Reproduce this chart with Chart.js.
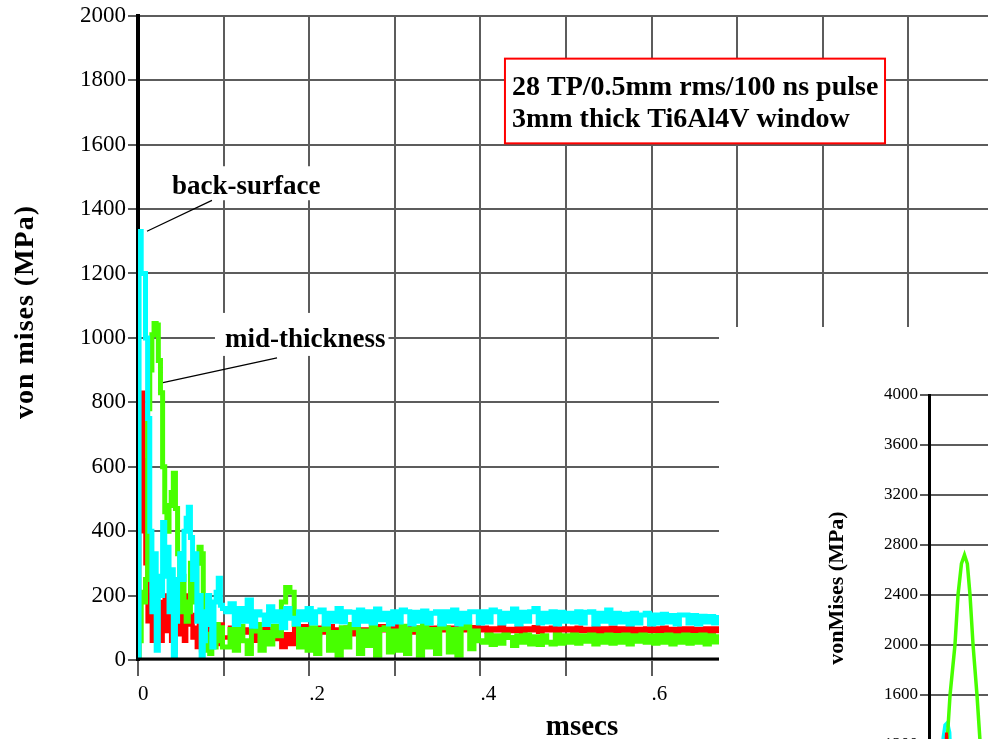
<!DOCTYPE html>
<html>
<head>
<meta charset="utf-8">
<script src="https://cdn.jsdelivr.net/npm/chart.js@4.4.1/dist/chart.umd.min.js"></script>
<style>
    html, body { margin: 0; padding: 0; background: #fff; overflow: hidden; }
    #wrap { position: relative; width: 988px; height: 739px; overflow: hidden; }
    #mainChart { position: absolute; left: 0; top: 0; }
    #insetChart { position: absolute; left: 719px; top: 327px; background: #fff; }
</style>
</head>
<body>
<div id="wrap">
    <canvas id="mainChart" width="988" height="739"></canvas>
    <canvas id="insetChart" width="269" height="600"></canvas>
</div>
<script>
// ---- main plot data (time in msecs, stress in MPa) ----
const msecs = [
    0, 0.0025, 0.005, 0.0075, 0.01, 0.0125, 0.015, 0.0175, 0.02, 0.0225,
    0.025, 0.0275, 0.03, 0.0325, 0.035, 0.0375, 0.04, 0.0425, 0.045, 0.0475,
    0.05, 0.0525, 0.055, 0.0575, 0.06, 0.0625, 0.065, 0.0675, 0.07, 0.0725,
    0.075, 0.0775, 0.08, 0.0825, 0.085, 0.0875, 0.09, 0.0925, 0.095, 0.0975, 0.1,
    0.105, 0.11, 0.115, 0.12, 0.125, 0.13, 0.135, 0.14, 0.145, 0.15,
    0.155, 0.16, 0.165, 0.17, 0.175, 0.18, 0.185, 0.19, 0.195, 0.2,
    0.205, 0.21, 0.215, 0.22, 0.225, 0.23, 0.235, 0.24, 0.245, 0.25,
    0.255, 0.26, 0.265, 0.27, 0.275, 0.28, 0.285, 0.29, 0.295, 0.3,
    0.305, 0.31, 0.315, 0.32, 0.325, 0.33, 0.335, 0.34, 0.345, 0.35,
    0.355, 0.36, 0.365, 0.37, 0.375, 0.38, 0.385, 0.39, 0.395, 0.4,
    0.405, 0.41, 0.415, 0.42, 0.425, 0.43, 0.435, 0.44, 0.445, 0.45,
    0.455, 0.46, 0.465, 0.47, 0.475, 0.48, 0.485, 0.49, 0.495, 0.5,
    0.505, 0.51, 0.515, 0.52, 0.525, 0.53, 0.535, 0.54, 0.545, 0.55,
    0.555, 0.56, 0.565, 0.57, 0.575, 0.58, 0.585, 0.59, 0.595, 0.6,
    0.605, 0.61, 0.615, 0.62, 0.625, 0.63, 0.635, 0.64, 0.645, 0.65,
    0.655, 0.66, 0.665, 0.67, 0.675, 0.68
];

// cyan trace
const backSurface = [
    0, 1330, 1200, 1200, 1000, 750, 400, 150, 330, 30,
    260, 200, 427, 260, 350, 150, 280, 0, 120, 250,
    330, 250, 400, 440, 474, 380, 250, 330, 120, 200,
    0, 60, 150, 200, 110, 40, 180, 210, 254, 170, 160,
    150, 175, 110, 160, 120, 186, 105, 150, 140, 110,
    165, 120, 150, 100, 160, 130, 112, 150, 125, 160,
    115, 150, 155, 112, 145, 120, 160, 118, 150, 148,
    110, 155, 120, 150, 115, 158, 125, 145, 112, 150,
    118, 155, 150, 112, 148, 120, 152, 115, 145, 150,
    112, 150, 120, 155, 112, 145, 118, 150, 150, 115,
    150, 118, 155, 150, 115, 145, 120, 158, 112, 148,
    120, 150, 160, 115, 145, 118, 150, 112, 148, 120,
    145, 118, 150, 115, 148, 150, 112, 145, 120, 155,
    115, 145, 118, 142, 112, 145, 115, 140, 145, 112,
    140, 115, 142, 118, 138, 112, 140, 140, 115, 138,
    112, 136, 118, 135, 115, 132
];

// green trace
const midThickness = [
    0, 60, 210, 180, 250, 780, 900, 1010, 1045, 1040,
    930, 830, 600, 460, 400, 480, 520, 580, 470, 330,
    150, 260, 180, 120, 150, 300, 220, 180, 300, 350,
    330, 120, 30, 80, 20, 90, 40, 110, 60, 100, 40,
    40, 95, 30, 105, 60, 20, 90, 110, 30, 85,
    50, 105, 75, 180, 225, 210, 110, 40, 95, 30,
    100, 20, 95, 105, 30, 85, 15, 100, 40, 110,
    100, 20, 90, 45, 108, 15, 95, 100, 25, 90,
    30, 105, 20, 95, 100, 15, 110, 40, 95, 20,
    105, 100, 25, 95, 15, 100, 108, 35, 90, 60,
    55, 78, 48, 75, 52, 78, 70, 45, 75, 55,
    78, 50, 72, 48, 75, 55, 50, 78, 52, 75,
    55, 78, 52, 75, 58, 78, 50, 75, 55, 78,
    52, 76, 55, 78, 50, 75, 58, 78, 55, 75,
    52, 76, 55, 78, 50, 75, 55, 78, 52, 76,
    55, 78, 50, 75, 56, 72
];

// red trace
const redTrace = [
    0, 400, 830, 620, 300, 120, 200, 60, 150, 100,
    180, 60, 120, 200, 90, 150, 60, 25, 120, 80,
    150, 100, 60, 200, 110, 140, 70, 100, 40, 160,
    30, 60, 120, 80, 40, 100, 60, 90, 50, 110, 70,
    70, 100, 50, 105, 85, 95, 60, 100, 75, 108,
    90, 65, 100, 40, 80, 50, 100, 95, 105, 90,
    95, 80, 100, 85, 105, 78, 95, 88, 100, 80,
    105, 85, 95, 78, 100, 88, 105, 92, 100, 95,
    105, 88, 102, 85, 100, 92, 106, 88, 100, 84,
    104, 92, 100, 88, 105, 92, 100, 95, 102, 92,
    100, 88, 98, 92, 102, 86, 96, 90, 100, 85,
    98, 92, 102, 88, 98, 92, 100, 86, 98, 92,
    98, 88, 100, 90, 96, 86, 100, 88, 98, 86,
    100, 90, 98, 86, 100, 88, 96, 86, 98, 90,
    98, 86, 100, 88, 96, 85, 98, 90, 98, 86,
    96, 88, 98, 86, 98, 90
];

// black trace along zero
const blackMsecs = [0, 0.68];
const blackTrace = [0, 0];

// ---- inset plot data ----
const insetGreenTime = [1.5, 2.14, 2.64, 2.95, 3.3, 3.61, 3.9, 4.17, 4.48, 4.88, 5.3, 5.8];
const insetGreen = [800, 1600, 2000, 2400, 2650, 2720, 2650, 2400, 2000, 1600, 1100, 700];
const insetCyanTime = [1.2, 1.45, 1.63, 1.88, 2.1, 2.3];
const insetCyan = [900, 1260, 1360, 1380, 1300, 900];
const insetRedTime = [1.6, 1.78, 1.95];
const insetRed = [1000, 1300, 1000];

const SERIF = '"Liberation Serif", "Times New Roman", serif';
const GRID = '#5c5c5c';

const toPoints = (xs, ys) => xs.map((x, i) => ({ x, y: ys[i] }));

/**
 * Labels, leader lines and the pulse note drawn over the main plot
 */
const notesPlugin = {
    id: 'notes',
    afterDraw(chart) {
        const { ctx, scales: { x, y } } = chart;
        const px = t => x.getPixelForValue(t);
        const py = v => y.getPixelForValue(v);
        ctx.save();

        // pulse note box
        const bx = px(0.4287), by = py(1867);
        const bw = px(0.8727) - bx, bh = py(1604) - by;
        ctx.fillStyle = '#fff';
        ctx.fillRect(bx, by, bw, bh);
        ctx.strokeStyle = '#ff0000';
        ctx.lineWidth = 2;
        ctx.strokeRect(bx, by, bw, bh);
        ctx.fillStyle = '#000';
        ctx.textAlign = 'left';
        ctx.textBaseline = 'alphabetic';
        ctx.font = `bold 28px ${SERIF}`;
        ctx.fillText('28 TP/0.5mm rms/100 ns pulse', bx + 7, by + 36);
        ctx.fillText('3mm thick Ti6Al4V window', bx + 7, by + 68);

        // back-surface label
        ctx.font = `bold 27px ${SERIF}`;
        let tx = px(0.0397), ty = py(1446);
        let w = ctx.measureText('back-surface').width;
        ctx.fillStyle = '#fff';
        ctx.fillRect(tx - 6, ty - 28, w + 12, 34);
        ctx.fillStyle = '#000';
        ctx.fillText('back-surface', tx, ty);

        // mid-thickness label
        tx = px(0.1016); ty = py(972);
        w = ctx.measureText('mid-thickness').width;
        ctx.fillStyle = '#fff';
        ctx.fillRect(tx - 10, ty - 34, w + 13, 43);
        ctx.fillStyle = '#000';
        ctx.fillText('mid-thickness', tx, ty);

        // leader lines
        ctx.strokeStyle = '#000';
        ctx.lineWidth = 1.2;
        ctx.beginPath();
        ctx.moveTo(px(0.0105), py(1331));
        ctx.lineTo(px(0.0864), py(1427));
        ctx.moveTo(px(0.0292), py(861));
        ctx.lineTo(px(0.1624), py(938));
        ctx.stroke();

        // axis titles
        ctx.font = `bold 29px ${SERIF}`;
        ctx.textAlign = 'center';
        ctx.fillText('msecs', 582, 735);
        ctx.translate(33, 312);
        ctx.rotate(-Math.PI / 2);
        ctx.font = `bold 28px ${SERIF}`;
        ctx.letterSpacing = '1px';
        ctx.fillText('von mises (MPa)', 0, 0);
        ctx.restore();
    }
};

const insetTitlePlugin = {
    id: 'insetTitle',
    afterDraw(chart) {
        const { ctx } = chart;
        ctx.save();
        ctx.fillStyle = '#000';
        ctx.font = `bold 22px ${SERIF}`;
        ctx.textAlign = 'center';
        ctx.textBaseline = 'alphabetic';
        ctx.translate(124, 261);
        ctx.rotate(-Math.PI / 2);
        ctx.fillText('vonMises (MPa)', 0, 0);
        ctx.restore();
    }
};

// plain numbers, no thousands separator
const plainTick = value => String(value);

// Main chart
const mainChart = new Chart(document.getElementById('mainChart'), {
    type: 'line',
    data: {
        datasets: [
            { data: toPoints(blackMsecs, blackTrace), borderColor: '#000000', borderWidth: 5, stepped: false },
            { data: toPoints(msecs, backSurface), borderColor: '#00ffff', borderWidth: 5 },
            { data: toPoints(msecs, midThickness), borderColor: '#47ff00', borderWidth: 5 },
            { data: toPoints(msecs, redTrace), borderColor: '#ff0000', borderWidth: 4.5 }
        ]
    },
    options: {
        responsive: false,
        animation: false,
        elements: {
            point: { radius: 0 },
            line: { tension: 0, stepped: 'middle' }
        },
        layout: { padding: { top: 14, left: 0, right: 0, bottom: 0 } },
        plugins: {
            legend: { display: false },
            tooltip: { enabled: false }
        },
        scales: {
            x: {
                type: 'linear',
                min: 0,
                max: 0.993,
                afterFit(scale) { scale.height = 79; },
                ticks: {
                    stepSize: 0.1,
                    includeBounds: false,
                    autoSkip: false,
                    maxRotation: 0,
                    align: 'start',
                    labelOffset: 0,
                    padding: 6,
                    color: '#000',
                    font: { family: SERIF, size: 21 },
                    callback: value => {
                        const n = Math.round(value * 10);
                        if (n % 2) return '';
                        return n === 0 ? '0' : '.' + n;
                    }
                },
                grid: { color: GRID, lineWidth: 2, tickLength: 16 },
                border: { color: GRID, width: 2 }
            },
            y: {
                min: 0,
                max: 2000,
                afterFit(scale) { scale.width = 138; },
                ticks: {
                    stepSize: 200,
                    padding: 2,
                    color: '#000',
                    font: { family: SERIF, size: 23 },
                    callback: plainTick
                },
                grid: { color: GRID, lineWidth: 2, tickLength: 10 },
                border: { color: '#000', width: 4 }
            }
        }
    },
    plugins: [notesPlugin]
});

// Inset chart
const insetChart = new Chart(document.getElementById('insetChart'), {
    type: 'line',
    data: {
        datasets: [
            { data: toPoints(insetRedTime, insetRed), borderColor: '#ff0000', borderWidth: 3 },
            { data: toPoints(insetGreenTime, insetGreen), borderColor: '#47ff00', borderWidth: 3.5 },
            { data: toPoints(insetCyanTime, insetCyan), borderColor: '#00ffff', borderWidth: 3.5 }
        ]
    },
    options: {
        responsive: false,
        animation: false,
        elements: {
            point: { radius: 0 },
            line: { tension: 0 }
        },
        layout: { padding: { top: 68, left: 0, right: 0, bottom: 32 } },
        plugins: {
            legend: { display: false },
            tooltip: { enabled: false }
        },
        scales: {
            x: { type: 'linear', min: 0, max: 6, display: false },
            y: {
                min: 0,
                max: 4000,
                afterFit(scale) { scale.width = 210; },
                ticks: {
                    stepSize: 400,
                    padding: 2,
                    color: '#000',
                    font: { family: SERIF, size: 17 },
                    callback: plainTick
                },
                grid: { color: GRID, lineWidth: 2, tickLength: 9 },
                border: { color: '#000', width: 3 }
            }
        }
    },
    plugins: [insetTitlePlugin]
});
</script>
</body>
</html>
